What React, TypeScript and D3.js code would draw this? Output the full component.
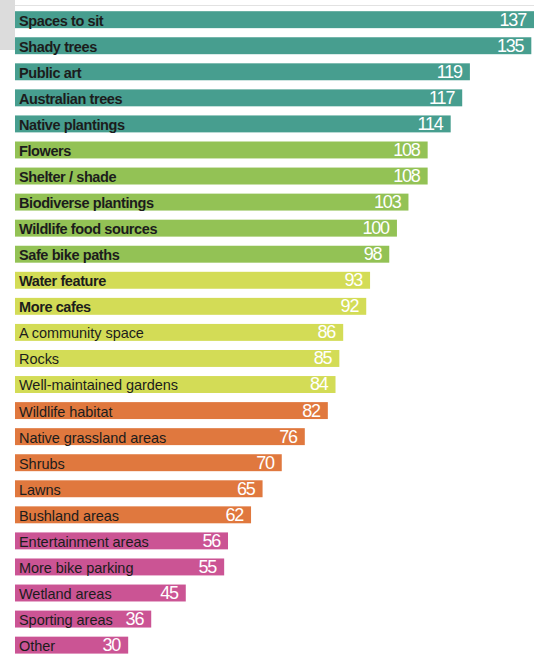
import React from "react";
import * as d3 from "d3";

const categories = [
  "Spaces to sit", "Shady trees", "Public art", "Australian trees", "Native plantings",
  "Flowers", "Shelter / shade", "Biodiverse plantings", "Wildlife food sources", "Safe bike paths",
  "Water feature", "More cafes", "A community space", "Rocks", "Well-maintained gardens",
  "Wildlife habitat", "Native grassland areas", "Shrubs", "Lawns", "Bushland areas",
  "Entertainment areas", "More bike parking", "Wetland areas", "Sporting areas", "Other",
];
const values = [137, 135, 119, 117, 114, 108, 108, 103, 100, 98, 93, 92, 86, 85, 84, 82, 76, 70, 65, 62, 56, 55, 45, 36, 30];
const groups = [0, 0, 0, 0, 0, 1, 1, 1, 1, 1, 2, 2, 2, 2, 2, 3, 3, 3, 3, 3, 4, 4, 4, 4, 4];
const groupColors = ["#479e8f", "#93c255", "#d3dc56", "#e0783e", "#cb5494"];
const boldLabel = [true, true, true, true, true, true, true, true, true, true, true, true, false, false, false, false, false, false, false, false, false, false, false, false, false];

export default function App() {
  const W = 534, H = 655;
  const x = d3.scaleLinear().domain([0, 137]).range([13, 539]);
  const y = d3.scaleBand<string>().domain(categories).range([11.2, 653.6]).paddingInner(0.35).paddingOuter(0);
  const bw = y.bandwidth();
  const x0 = 15;
  return (
    <svg width={W} height={H} style={{ position: "absolute", left: 0, top: 0, display: "block" }}>
      <rect x={0} y={0} width={W} height={H} fill="#fff" />
      <rect x={0} y={0} width={15} height={50} fill="#dcdcdc" />
      <line x1={15} x2={W} y1={5.5} y2={5.5} stroke="#e2e2e2" strokeWidth={1} />
      {categories.map((c, i) => {
        const yy = y(c)!;
        const xe = x(values[i]);
        return (
          <g key={c}>
            <rect x={x0} y={yy} width={xe - x0} height={bw} fill={groupColors[groups[i]]} />
            <text
              x={19}
              y={yy + bw - 2.5}
              fontFamily="Liberation Sans, Arial, sans-serif"
              fontSize={14.5}
              fontWeight={boldLabel[i] ? 700 : 400}
              letterSpacing={boldLabel[i] ? -0.4 : -0.05}
              fill="#1c1c1c"
            >
              {c}
            </text>
            <text
              x={Math.min(xe, W) - 8}
              y={yy + bw - 2.5}
              textAnchor="end"
              fontFamily="Liberation Sans, Arial, sans-serif"
              fontSize={18}
              letterSpacing={-1.2}
              fill="#ffffff"
            >
              {values[i]}
            </text>
          </g>
        );
      })}
    </svg>
  );
}
